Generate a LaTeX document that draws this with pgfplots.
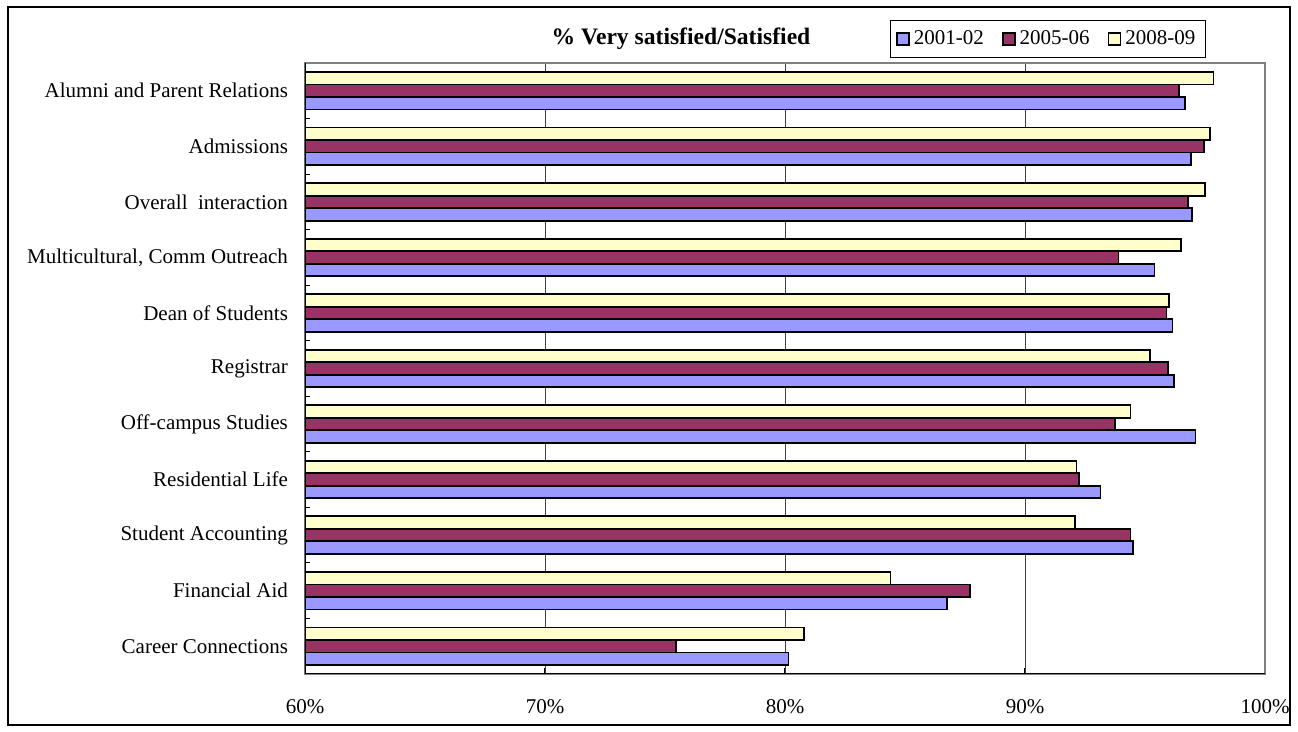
\documentclass[border=0pt]{standalone}
\usepackage{pgfplots}
\pgfplotsset{compat=1.18}
\usepackage{fontspec}
\setmainfont{Liberation Serif}
\definecolor{cblue}{HTML}{9999FF}
\definecolor{cmaroon}{HTML}{993366}
\definecolor{cyellow}{HTML}{FFFFCC}
\begin{document}
\begin{tikzpicture}[font=\fontsize{10.5}{12.5}\selectfont]
\useasboundingbox (0,0) rectangle (649pt,-366pt);
\draw[black, line width=0.6pt] (4pt,-3.5pt) rectangle (645pt,-362.5pt);
\begin{axis}[
  at={(152.5pt,-337pt)}, anchor=south west,
  scale only axis, width=480pt, height=305.5pt,
  xbar=0pt, bar width=6.25pt,
  xmin=60, xmax=100, ymin=-0.5, ymax=10.5,
  xtick={60,70,80,90,100},
  xticklabels={60\%,70\%,80\%,90\%,100\%},
  xticklabel style={yshift=-9pt},
  xtick pos=bottom, ytick pos=left,
  ytick={0,...,10},
  yticklabels={Career Connections, Financial Aid, Student Accounting, Residential Life, Off-campus Studies, Registrar, Dean of Students, {Multicultural, Comm Outreach}, Overall\ \ interaction, Admissions, Alumni and Parent Relations},
  yticklabel style={xshift=-5pt},
  major y tick style={draw=none},
  minor ytick={-0.5,0.5,...,10.5},
  minor tick length=2.5pt,
  major tick length=3pt,
  tick align=inside,
  tick style={black, line width=0.5pt},
  xmajorgrids, major grid style={black!75, line width=0.4pt},
  axis line style={black!50, line width=0.8pt},
  /pgf/number format/assume math mode=true,
  legend columns=3,
  legend style={at={(0.9385,1.0704)}, anchor=north east, draw=black, line width=0.5pt,
    inner xsep=3pt, inner ysep=3pt, font=\fontsize{10.5}{12.5}\selectfont,
    /tikz/every even column/.append style={column sep=7pt}},
  legend image code/.code={\draw[#1, line width=0.9pt] (0pt,-3pt) rectangle (6pt,3pt);},
  legend cell align=left,
  every axis plot/.append style={draw=black, line width=0.9pt},
]
\addplot[fill=cblue] coordinates {
(80.15,0) (86.75,1) (94.5,2) (93.15,3) (97.1,4) (96.2,5) (96.15,6) (95.4,7) (96.95,8) (96.9,9) (96.65,10)};
\addplot[fill=cmaroon] coordinates {
(75.45,0) (87.7,1) (94.4,2) (92.25,3) (93.75,4) (95.95,5) (95.9,6) (93.9,7) (96.8,8) (97.45,9) (96.4,10)};
\addplot[fill=cyellow] coordinates {
(80.8,0) (84.4,1) (92.1,2) (92.15,3) (94.4,4) (95.2,5) (96.0,6) (96.5,7) (97.5,8) (97.7,9) (97.85,10)};
\legend{2001-02,2005-06,2008-09}
\draw[black, line width=0.9pt] (rel axis cs:0,1) -- (rel axis cs:0,0) -- (rel axis cs:1,0);
\end{axis}
\node[font=\bfseries\fontsize{11.8}{14}\selectfont] at (340.5pt,-19.5pt) {\% Very satisfied/Satisfied};
\end{tikzpicture}
\end{document}
